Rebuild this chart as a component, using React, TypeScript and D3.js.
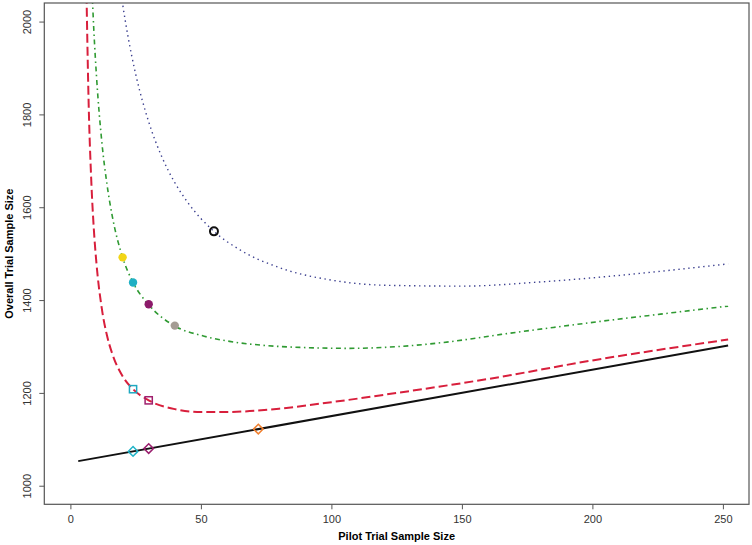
import React, { useEffect, useRef } from 'react';
import * as d3 from 'd3';

// values
const xTicks = [0, 50, 100, 150, 200, 250];
const yTicks = [1000, 1200, 1400, 1600, 1800, 2000];

const solidX = [3, 252];
const solidY = [1053, 1302];

const dashedX = [6, 7, 8, 9, 10, 12, 14, 16, 20, 24, 30, 40, 50, 60, 80, 100, 130, 160, 200, 252];
const dashedY = [2114, 1822, 1657, 1551, 1478, 1383, 1324, 1285, 1236, 1208, 1184, 1165, 1159, 1159, 1166, 1180, 1204, 1230, 1270, 1315];

const dotdashX = [8, 9, 10, 12, 14, 16, 20, 24, 30, 40, 50, 61, 75, 88, 107, 126, 145, 165, 185, 203, 225, 252];
const dotdashY = [2107, 1979, 1882, 1743, 1650, 1582, 1492, 1438, 1390, 1344, 1324, 1311, 1302, 1298, 1296, 1300, 1310, 1326, 1341, 1354, 1369, 1387];

const dottedX = [19, 20, 22, 25, 30, 35, 40, 45, 55, 65, 80, 100, 120, 150, 180, 210, 252];
const dottedY = [2077, 2038, 1970, 1887, 1784, 1709, 1653, 1610, 1548, 1508, 1470, 1443, 1432, 1430, 1439, 1453, 1478];

const filledPts = [
  { x: 20, y: 1492, c: '#f2d516' },
  { x: 24, y: 1438, c: '#1fb0c4' },
  { x: 30, y: 1391, c: '#8c1a6a' },
  { x: 40, y: 1345, c: '#a59c94' },
];
const squarePts = [
  { x: 24, y: 1208, c: '#1fa8c0' },
  { x: 30, y: 1184, c: '#a0206e' },
];
const diamondPts = [
  { x: 24, y: 1074, c: '#22b4c8' },
  { x: 30, y: 1080, c: '#9a1f6e' },
  { x: 72, y: 1122, c: '#f08030' },
];
const circlePt = { x: 55, y: 1548 };

const W = 752;
const H = 545;
const left = 44.3, right = 749, top = 3, bottom = 504.3;

const App: React.FC = () => {
  const ref = useRef<SVGSVGElement>(null);

  useEffect(() => {
    const svg = d3.select(ref.current);
    svg.selectAll('*').remove();

    const x = d3.scaleLinear().domain([-10, 260]).range([left, right]);
    const y = d3.scaleLinear().domain([960, 2040]).range([bottom, top]);

    svg.append('defs').append('clipPath').attr('id', 'plotclip')
      .append('rect')
      .attr('x', left).attr('y', top)
      .attr('width', right - left).attr('height', bottom - top);

    const g = svg.append('g').attr('clip-path', 'url(#plotclip)');

    const line = d3.line<[number, number]>()
      .x(d => x(d[0]))
      .y(d => y(d[1]))
      .curve(d3.curveMonotoneX);

    const zip = (xs: number[], ys: number[]) => xs.map((v, i) => [v, ys[i]] as [number, number]);

    // Curves
    g.append('path').datum(zip(dottedX, dottedY))
      .attr('d', line).attr('fill', 'none')
      .attr('stroke', '#3b3f8f').attr('stroke-width', 1.4)
      .attr('stroke-dasharray', '1.4,3.6');

    g.append('path').datum(zip(dotdashX, dotdashY))
      .attr('d', line).attr('fill', 'none')
      .attr('stroke', '#2f9a32').attr('stroke-width', 1.6)
      .attr('stroke-dasharray', '5,3.5,1.5,3.5');

    g.append('path').datum(zip(dashedX, dashedY))
      .attr('d', line).attr('fill', 'none')
      .attr('stroke', '#d81f3c').attr('stroke-width', 2)
      .attr('stroke-dasharray', '9,4');

    g.append('path').datum(zip(solidX, solidY))
      .attr('d', line).attr('fill', 'none')
      .attr('stroke', '#111').attr('stroke-width', 2);

    // Markers
    g.selectAll('.filled')
      .data(filledPts)
      .join('circle')
      .attr('cx', d => x(d.x)).attr('cy', d => y(d.y))
      .attr('r', 4.2).attr('fill', d => d.c);

    g.selectAll('.square')
      .data(squarePts)
      .join('rect')
      .attr('x', d => x(d.x) - 3.6).attr('y', d => y(d.y) - 3.6)
      .attr('width', 7.2).attr('height', 7.2)
      .attr('fill', 'none').attr('stroke', d => d.c).attr('stroke-width', 1.5);

    g.selectAll('.diamond')
      .data(diamondPts)
      .join('path')
      .attr('d', d => {
        const cx = x(d.x), cy = y(d.y), r = 4.8;
        return `M${cx},${cy - r}L${cx + r},${cy}L${cx},${cy + r}L${cx - r},${cy}Z`;
      })
      .attr('fill', 'none').attr('stroke', d => d.c).attr('stroke-width', 1.5);

    g.append('circle')
      .attr('cx', x(circlePt.x)).attr('cy', y(circlePt.y))
      .attr('r', 4).attr('fill', 'none')
      .attr('stroke', '#111').attr('stroke-width', 2);

    // Box
    svg.append('rect')
      .attr('x', left).attr('y', top)
      .attr('width', right - left).attr('height', bottom - top)
      .attr('fill', 'none').attr('stroke', '#555').attr('stroke-width', 1.2);

    // Axes
    const font = '"Liberation Sans", Arial, sans-serif';

    const xAxis = svg.append('g')
      .attr('transform', `translate(0,${bottom})`)
      .call(d3.axisBottom(x).tickValues(xTicks).tickFormat(d3.format('d')).tickSize(5).tickSizeOuter(0).tickPadding(6));
    xAxis.select('.domain').remove();
    xAxis.selectAll('line').attr('stroke', '#555');
    xAxis.selectAll('text')
      .style('font-family', font).style('font-size', '11px').attr('fill', '#333');

    const yAxis = svg.append('g')
      .attr('transform', `translate(${left},0)`)
      .call(d3.axisLeft(y).tickValues(yTicks).tickFormat(d3.format('d')).tickSize(5).tickSizeOuter(0));
    yAxis.select('.domain').remove();
    yAxis.selectAll('line').attr('stroke', '#555');
    yAxis.selectAll('text')
      .attr('x', null).attr('dy', null)
      .attr('transform', 'translate(-13,0) rotate(-90)')
      .attr('text-anchor', 'middle')
      .style('font-family', font).style('font-size', '11px').attr('fill', '#333');

    // Axis titles
    svg.append('text')
      .attr('x', (left + right) / 2).attr('y', 540)
      .attr('text-anchor', 'middle')
      .style('font-family', font).style('font-size', '11px').style('font-weight', 'bold')
      .text('Pilot Trial Sample Size');

    svg.append('text')
      .attr('transform', `translate(13,${(top + bottom) / 2}) rotate(-90)`)
      .attr('text-anchor', 'middle')
      .style('font-family', font).style('font-size', '11px').style('font-weight', 'bold')
      .text('Overall Trial Sample Size');
  }, []);

  return (
    <svg
      ref={ref}
      width={W}
      height={H}
      style={{ position: 'absolute', left: 0, top: 0, background: '#fff' }}
    />
  );
};

export default App;
